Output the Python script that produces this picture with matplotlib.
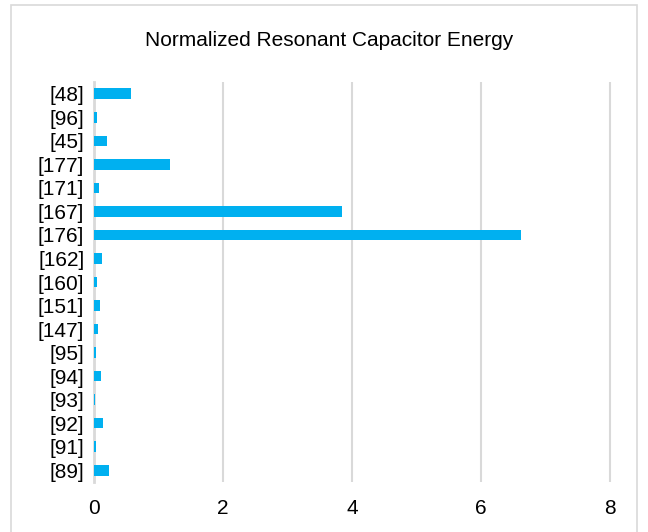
import matplotlib
matplotlib.use("Agg")
import matplotlib.pyplot as plt
from matplotlib.patches import Rectangle

plt.rcParams['font.family'] = ['Liberation Sans', 'DejaVu Sans']

refs = ["[48]", "[96]", "[45]", "[177]", "[171]", "[167]", "[176]", "[162]",
        "[160]", "[151]", "[147]", "[95]", "[94]", "[93]", "[92]", "[91]", "[89]"]
energy = [0.57, 0.05, 0.20, 1.18, 0.08, 3.85, 6.62, 0.12,
          0.05, 0.09, 0.06, 0.03, 0.11, 0.01, 0.14, 0.03, 0.24]
xticks = [0, 2, 4, 6, 8]

fig = plt.figure(figsize=(6.48, 5.32), dpi=100)
W, H = 648, 532

# light outer chart border
fig.patches.append(Rectangle((11 / W, -0.01), 626 / W, 1.0 - 5 / H + 0.01,
                             transform=fig.transFigure, fill=False,
                             edgecolor="#d9d9d9", linewidth=1.2))

ax = fig.add_axes([94 / W, 1 - 482 / H, (620 - 94) / W, (482 - 82) / H])
pos = list(range(len(refs)))
ax.barh(pos, energy, height=0.45, color="#00B0F0", zorder=3)
ax.set_ylim(len(refs) - 0.5, -0.5)
ax.set_xlim(0, 8 * (620 - 94) / (610 - 94))
ax.set_xticks(xticks)
ax.set_xticklabels([str(t) for t in xticks], fontsize=15)
ax.set_yticks(pos)
ax.set_yticklabels(refs, fontsize=15)
ax.tick_params(length=0)
ax.tick_params(axis="x", pad=12)
ax.tick_params(axis="y", pad=7)
ax.grid(axis="x", color="#d9d9d9", linewidth=1.5, zorder=0)
for s in ["top", "right", "bottom"]:
    ax.spines[s].set_visible(False)
ax.spines["left"].set_color("#d9d9d9")
ax.spines["left"].set_linewidth(2)
ax.spines["left"].set_zorder(1)

fig.text(329 / W, 1 - 40 / H, "Normalized Resonant Capacitor Energy",
         ha="center", va="center", fontsize=15)

fig.savefig("out.png", dpi=100)
